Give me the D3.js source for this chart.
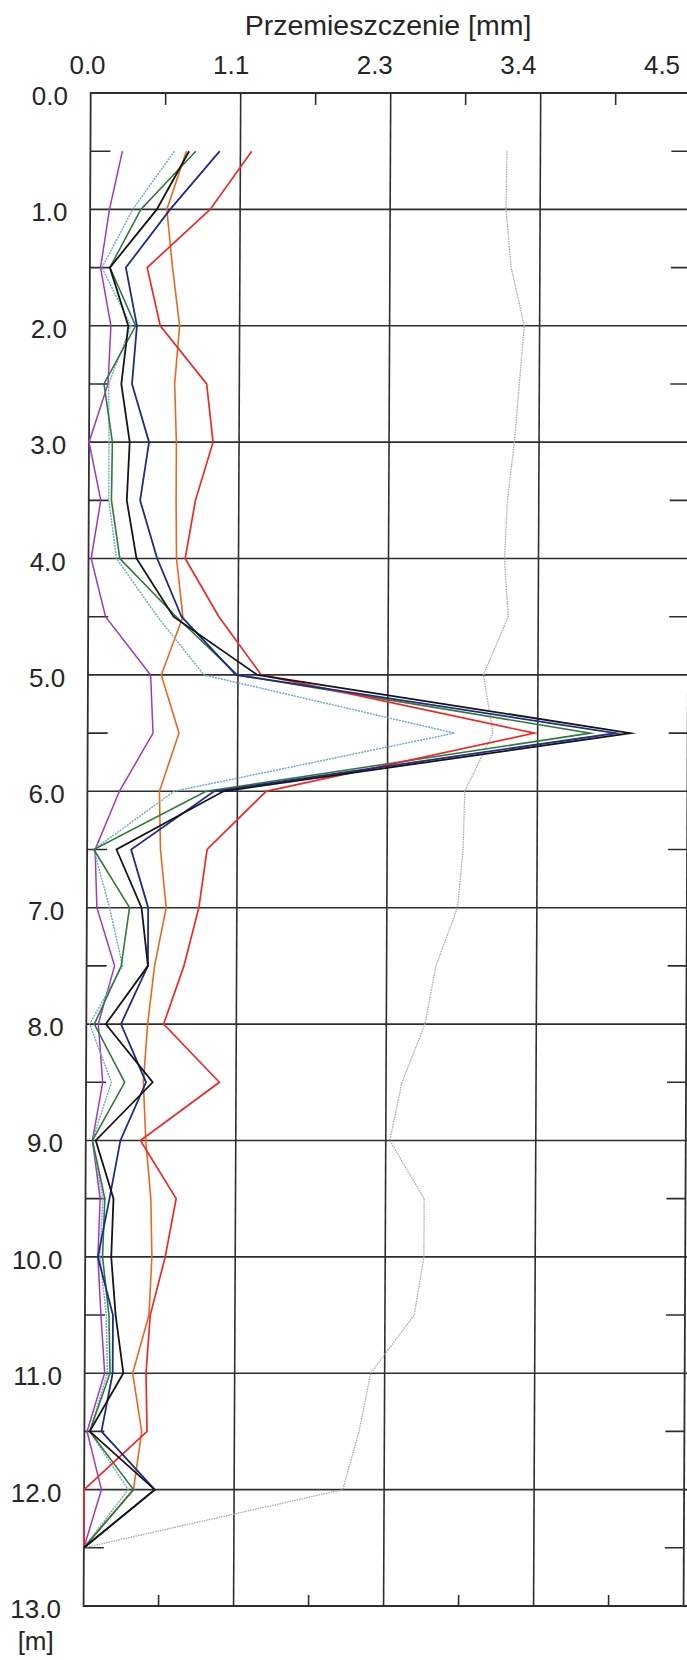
<!DOCTYPE html>
<html>
<head>
<meta charset="utf-8">
<script src="https://cdn.jsdelivr.net/npm/d3@7"></script>
<style>
  html, body { margin: 0; padding: 0; background: #fff; }
  svg { display: block; }
  text { font-family: "Liberation Sans", Arial, sans-serif; fill: #262626; font-weight: normal; }
</style>
</head>
<body>
<svg id="chart" width="687" height="1660"></svg>
<script>
// ---- data ----
const depths = [0.5, 1.0, 1.5, 2.0, 2.5, 3.0, 3.5, 4.0, 4.5, 5.0, 5.5, 6.0, 6.5,
                7.0, 7.5, 8.0, 8.5, 9.0, 9.5, 10.0, 10.5, 11.0, 11.5, 12.0, 12.5];

const purpleSeries = [0.24, 0.145, 0.08, 0.16, 0.14, 0.0, 0.09, 0.02, 0.13, 0.47, 0.49, 0.24, 0.06,
                      0.075, 0.21, 0.09, 0.125, 0.05, 0.11, 0.095, 0.12, 0.15, 0.02, 0.13, 0.0];
const lightBlueSeries = [0.63, 0.32, 0.09, 0.31, 0.145, 0.15, 0.15, 0.21, 0.52, 0.87, 2.75, 0.65, 0.05,
                         0.17, 0.27, 0.025, 0.19, 0.05, 0.13, 0.11, 0.16, 0.17, 0.04, 0.33, 0.0];
const greenSeries = [0.79, 0.38, 0.15, 0.345, 0.11, 0.175, 0.17, 0.235, 0.66, 1.12, 3.77, 0.89, 0.05,
                     0.32, 0.26, 0.06, 0.29, 0.05, 0.145, 0.13, 0.18, 0.19, 0.04, 0.37, 0.0];
const orangeSeries = [0.72, 0.575, 0.62, 0.675, 0.64, 0.655, 0.655, 0.66, 0.71, 0.55, 0.685, 0.54, 0.55,
                      0.595, 0.51, 0.46, 0.43, 0.45, 0.49, 0.50, 0.48, 0.36, 0.43, 0.37, 0.0];
const redSeries = [1.21, 0.90, 0.43, 0.53, 0.88, 0.93, 0.80, 0.725, 0.98, 1.30, 3.35, 1.34, 0.90,
                   0.84, 0.73, 0.58, 1.00, 0.41, 0.68, 0.60, 0.49, 0.46, 0.47, 0.0, 0.0];
const blueSeries = [0.97, 0.60, 0.27, 0.355, 0.32, 0.45, 0.385, 0.515, 0.70, 1.11, 3.96, 0.95, 0.33,
                    0.46, 0.46, 0.26, 0.45, 0.26, 0.18, 0.095, 0.21, 0.21, 0.128, 0.53, 0.0];
const blackSeries = [0.74, 0.50, 0.15, 0.29, 0.24, 0.305, 0.285, 0.36, 0.64, 1.27, 4.07, 1.02, 0.22,
                     0.41, 0.46, 0.146, 0.50, 0.075, 0.21, 0.195, 0.23, 0.29, 0.04, 0.53, 0.0];
const greySeries = [3.124, 3.119, 3.16, 3.26, 3.225, 3.19, 3.14, 3.12, 3.15, 2.966, 3.04, 2.83, 2.82,
                    2.78, 2.62, 2.54, 2.37, 2.28, 2.54, 2.54, 2.47, 2.145, 2.06, 1.94, 0.0];

const xTickValues = [0, 1.125, 2.25, 3.375, 4.5];
const xTickLabels = ["0.0", "1.1", "2.3", "3.4", "4.5"];
const yTickValues = [0, 1, 2, 3, 4, 5, 6, 7, 8, 9, 10, 11, 12, 13];
const xTitle = "Przemieszczenie [mm]";
const yUnit = "[m]";

const seriesList = [
  { name: "grey",   values: greySeries,      color: "#a8a8a8", width: 1.3, dash: "1.5,1" },
  { name: "purple", values: purpleSeries,    color: "#a436c4", width: 1.5, dash: null },
  { name: "orange", values: orangeSeries,    color: "#e8691e", width: 1.6, dash: null },
  { name: "lblue",  values: lightBlueSeries, color: "#6aa6cf", width: 1.4, dash: "2,1" },
  { name: "green",  values: greenSeries,     color: "#2f7a35", width: 1.6, dash: null },
  { name: "red",    values: redSeries,       color: "#ee2a26", width: 1.7, dash: null },
  { name: "blue",   values: blueSeries,      color: "#1f2a8a", width: 1.8, dash: null },
  { name: "black",  values: blackSeries,     color: "#151515", width: 1.8, dash: null }
];

// ---- layout ----
const plotLeft = 90.7, plotRight = 690.7, plotTop = 93, plotBottom = 1606;
const skewDeg = -0.27;
const skewK = Math.tan(skewDeg * Math.PI / 180);
const shiftAt = yy => (yy - plotTop) * skewK;   // scan skew offset for unskewed text

const x = d3.scaleLinear().domain([0, 4.5]).range([plotLeft, plotRight]);
const y = d3.scaleLinear().domain([0, 13]).range([plotTop, plotBottom]);
const xLabelPos = d3.scaleLinear().domain([0, 4.5]).range([87.5, 662]);

const svg = d3.select("#chart");
const g = svg.append("g")
  .attr("transform", `translate(0,${plotTop}) skewX(${skewDeg}) translate(0,${-plotTop})`);
const tg = svg.append("g");

const gridColor = "#2e2e2e";

// horizontal gridlines (whole metres)
g.append("g").selectAll("line").data(yTickValues.filter(d => d > 0 && d < 13)).join("line")
  .attr("x1", plotLeft).attr("x2", plotRight + 5)
  .attr("y1", d => y(d)).attr("y2", d => y(d))
  .attr("stroke", gridColor).attr("stroke-width", 1.6);

// vertical gridlines
g.append("g").selectAll("line").data(xTickValues.filter(d => d > 0 && d < 4.5)).join("line")
  .attr("x1", d => x(d)).attr("x2", d => x(d))
  .attr("y1", plotTop).attr("y2", plotBottom)
  .attr("stroke", gridColor).attr("stroke-width", 1.6);

// frame
g.append("path")
  .attr("d", `M${plotRight + 5},${plotTop} H${plotLeft} V${plotBottom} H${plotRight + 5}`)
  .attr("fill", "none").attr("stroke", gridColor).attr("stroke-width", 1.8);
g.append("line").attr("x1", plotRight).attr("x2", plotRight).attr("y1", plotTop).attr("y2", plotBottom)
  .attr("stroke", gridColor).attr("stroke-width", 1.8);

// minor ticks on x (top & bottom)
const xMinor = d3.range(0.5625, 4.5, 1.125);
g.append("g").selectAll("line").data(xMinor).join("line")
  .attr("x1", d => x(d)).attr("x2", d => x(d))
  .attr("y1", plotTop).attr("y2", plotTop + 12)
  .attr("stroke", gridColor).attr("stroke-width", 1.6);
g.append("g").selectAll("line").data(xMinor).join("line")
  .attr("x1", d => x(d)).attr("x2", d => x(d))
  .attr("y1", plotBottom).attr("y2", plotBottom - 11)
  .attr("stroke", gridColor).attr("stroke-width", 1.6);

// minor ticks on y (left & right)
const yMinor = d3.range(0.5, 13, 1);
g.append("g").selectAll("line").data(yMinor).join("line")
  .attr("x1", plotLeft).attr("x2", plotLeft + 20)
  .attr("y1", d => y(d)).attr("y2", d => y(d))
  .attr("stroke", gridColor).attr("stroke-width", 1.6);
g.append("g").selectAll("line").data(yMinor).join("line")
  .attr("x1", plotRight).attr("x2", plotRight - 19)
  .attr("y1", d => y(d)).attr("y2", d => y(d))
  .attr("stroke", gridColor).attr("stroke-width", 1.6);

// data lines
const line = d3.line()
  .x(d => x(d[1]))
  .y(d => y(d[0]));

seriesList.forEach(s => {
  const pts = depths.map((dp, i) => [dp, s.values[i]]);
  const p = g.append("path")
    .datum(pts)
    .attr("d", line)
    .attr("fill", "none")
    .attr("stroke", s.color)
    .attr("stroke-width", s.width)
    .attr("stroke-linejoin", "miter")
    .attr("stroke-miterlimit", 10);
  if (s.dash) p.attr("stroke-dasharray", s.dash);
});

// title
tg.append("text")
  .attr("x", 388).attr("y", 35)
  .attr("text-anchor", "middle")
  .attr("font-size", 28.5)
  .text(xTitle);

// x tick labels
tg.append("g").selectAll("text").data(xTickValues).join("text")
  .attr("x", d => xLabelPos(d)).attr("y", 74)
  .attr("text-anchor", "middle")
  .attr("font-size", 26)
  .text((d, i) => xTickLabels[i]);

// y tick labels
tg.append("g").selectAll("text").data(yTickValues).join("text")
  .attr("x", d => 68 + shiftAt(y(d))).attr("y", d => y(d) + 12)
  .attr("text-anchor", "end")
  .attr("font-size", 26)
  .text(d => d3.format(".1f")(d));

// unit
tg.append("text")
  .attr("x", 43 + shiftAt(1640)).attr("y", 1650)
  .attr("text-anchor", "middle")
  .attr("font-size", 26)
  .text(yUnit);
</script>
</body>
</html>
